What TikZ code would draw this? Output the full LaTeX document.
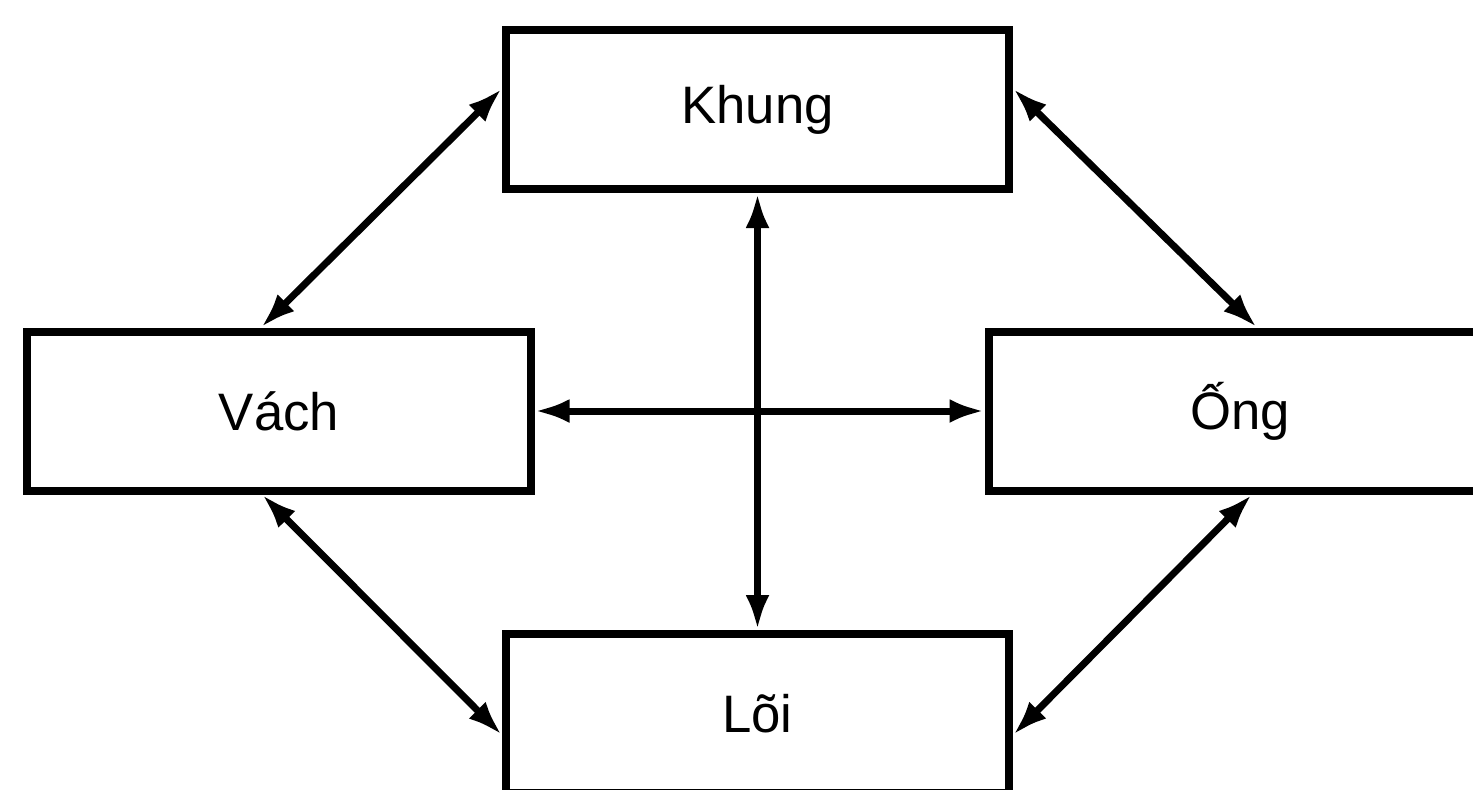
\documentclass[tikz,border=0pt]{standalone}
\usepackage{fontspec}
\setmainfont{Liberation Sans}
\usetikzlibrary{arrows.meta}
\tikzset{
  blk/.style={rectangle,draw=black,line width=1.6mm,minimum width=100.6mm,minimum height=31.8mm,inner sep=0pt,font=\fontsize{30}{36}\selectfont},
  link/.style={{Latex[length=7mm,width=4.8mm]}-{Latex[length=7mm,width=4.8mm]},line width=1.4mm},
}
\begin{document}
\begin{tikzpicture}[x=0.2mm,y=-0.2mm]
  \useasboundingbox (0,0) rectangle (1473,789);
  \node[blk](khung) at (757.5,109.5){Khung};
  \node[blk](vach) at (279,411){Vách};
  \node[blk](ong) at (1240,411){Ống};
  \node[blk](loi) at (757.5,713.5){Lõi};
  % diagonals
  \draw[link] ([yshift=4.2mm]khung.west) -- ([xshift=-3.6mm]vach.north);
  \draw[link] ([yshift=4.2mm]khung.east) -- ([xshift=3.4mm]ong.north);
  \draw[link] ([xshift=-3.4mm]vach.south) -- ([yshift=-4.3mm]loi.west);
  \draw[link] ([xshift=2.4mm]ong.south) -- ([yshift=-4.3mm]loi.east);
  % cross
  \draw[link] (khung) -- (loi);
  \draw[link] (vach) -- (ong);
\end{tikzpicture}
\end{document}
